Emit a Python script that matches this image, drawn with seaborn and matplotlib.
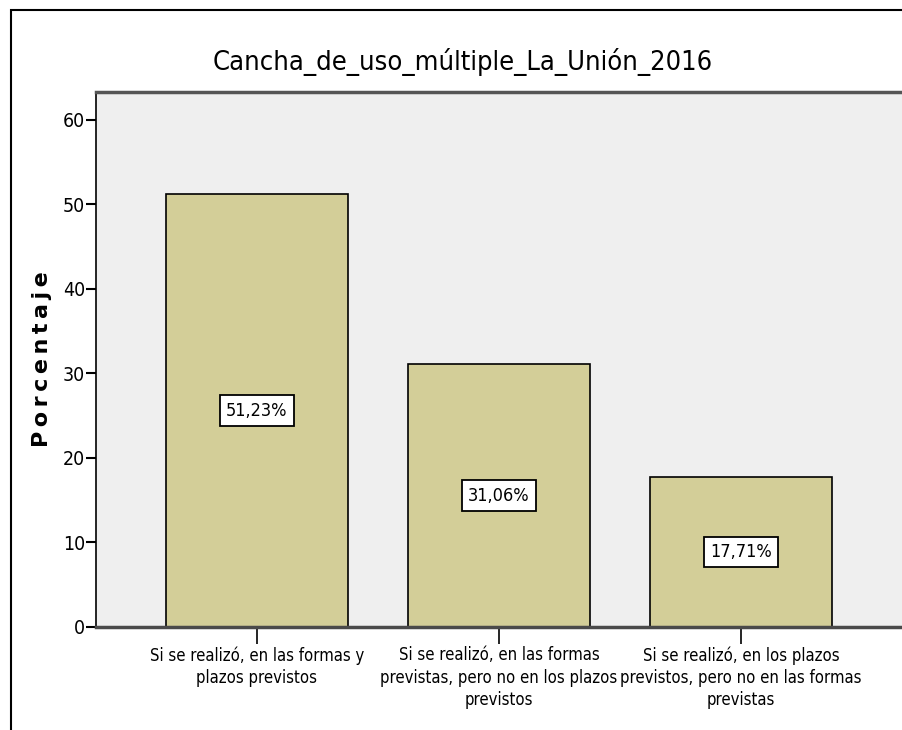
import matplotlib
matplotlib.use("Agg")
import matplotlib.pyplot as plt
import matplotlib.patches as mpatches
import seaborn as sns
import pandas as pd

# datos del gráfico
categorias = [
    "Si se realizó, en las formas y\nplazos previstos",
    "Si se realizó, en las formas\nprevistas, pero no en los plazos\nprevistos",
    "Si se realizó, en los plazos\nprevistos, pero no en las formas\nprevistas",
]
porcentajes = [51.23, 31.06, 17.71]
etiquetas = ["51,23%", "31,06%", "17,71%"]
titulo = "Cancha_de_uso_múltiple_La_Unión_2016"

df = pd.DataFrame({"cat": categorias, "pct": porcentajes})

sns.set_style("white")
plt.rcParams["font.family"] = ["DejaVu Sans"]
plt.rcParams["font.stretch"] = "condensed"
plt.rcParams["text.color"] = "black"
plt.rcParams["xtick.color"] = "black"
plt.rcParams["ytick.color"] = "black"
plt.rcParams["axes.labelcolor"] = "black"

fig = plt.figure(figsize=(9.02, 7.3), dpi=100)
ax = fig.add_axes([96 / 902, 103 / 730, 806 / 902, 535 / 730])
ax.set_facecolor("#efefef")

sns.barplot(data=df, x="cat", y="pct", color="#d3ce98", edgecolor="black",
            linewidth=1.2, width=0.75, saturation=1, ax=ax)

for i, (v, t) in enumerate(zip(porcentajes, etiquetas)):
    ax.text(i, v / 2, t, ha="center", va="center", fontsize=13,
            bbox=dict(boxstyle="square,pad=0.35", fc="white", ec="black", lw=1.3))

ax.set_ylim(0, 63.3)
ax.set_xlim(-0.665, 2.665)
ax.set_yticks([0, 10, 20, 30, 40, 50, 60])
ax.tick_params(axis="y", length=7, width=1.5, labelsize=14, direction="out", left=True, pad=1)
ax.tick_params(axis="x", length=12, width=1.2, labelsize=12, direction="out", bottom=True, pad=2)
for lab in ax.get_xticklabels():
    lab.set_linespacing(1.3)

ax.set_xlabel("")
ax.set_ylabel("P\u2009o\u2009r\u2009c\u2009e\u2009n\u2009t\u2009a\u2009j\u2009e", fontsize=16,
              fontweight="bold", fontstretch="normal", labelpad=8)

ax.spines["right"].set_visible(False)
ax.spines["left"].set_color("black")
ax.spines["left"].set_linewidth(1.2)
ax.spines["top"].set_color("#555555")
ax.spines["top"].set_linewidth(2.5)
ax.spines["bottom"].set_color("#4a4a4a")
ax.spines["bottom"].set_linewidth(2.5)

fig.text(463 / 902, 1 - 62 / 730, titulo, ha="center", va="center", fontsize=19.5)

# marco exterior
marco = mpatches.Rectangle((11 / 902, -0.1), 1.2, 1 - 10 / 730 + 0.1, transform=fig.transFigure,
                           fill=False, ec="black", lw=1.5, clip_on=False)
fig.patches.append(marco)

fig.savefig("out.png", dpi=100)
